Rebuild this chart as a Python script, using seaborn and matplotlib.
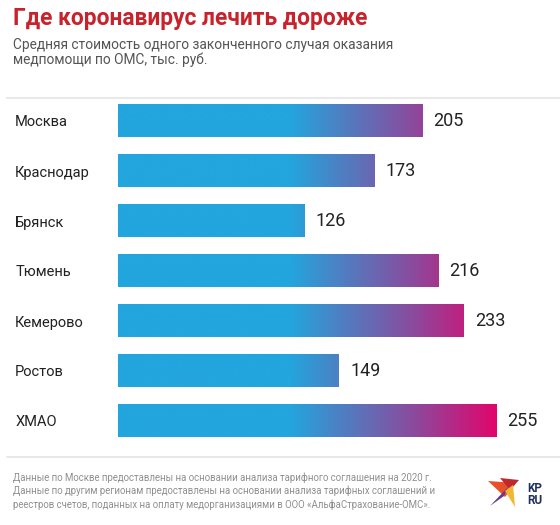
import numpy as np
import pandas as pd
import matplotlib
matplotlib.use("Agg")
import matplotlib.pyplot as plt
import seaborn as sns
from matplotlib.colors import LinearSegmentedColormap, Normalize
from matplotlib.patches import Polygon
from matplotlib.lines import Line2D

regions = ["Москва", "Краснодар", "Брянск", "Тюмень", "Кемерово", "Ростов", "ХМАО"]
costs = [205, 173, 126, 216, 233, 149, 255]

title = "Где коронавирус лечить дороже"
subtitle1 = "Средняя стоимость одного законченного случая оказания"
subtitle2 = "медпомощи по ОМС, тыс. руб."
notes = [
    "Данные по Москве предоставлены на основании анализа тарифного соглашения на 2020 г.",
    "Данные по другим регионам предоставлены на основании анализа тарифных соглашений и",
    "реестров счетов, поданных на оплату медорганизациями в ООО «АльфаСтрахование-ОМС».",
]

sns.set_theme(style="white")
plt.rcParams["font.family"] = ["Roboto", "DejaVu Sans"]

W, H = 560, 525
fig = plt.figure(figsize=(W / 100, H / 100), dpi=100)
fig.patch.set_facecolor("white")


def fx(px):
    return px / W


def fy(py):
    return 1 - py / H


ax = fig.add_axes([fx(118), fy(446), (W - 118) / W, 350 / H])
df = pd.DataFrame({"region": regions, "cost": costs})
sns.barplot(data=df, x="cost", y="region", orient="h", color="#23a5dd",
            width=0.66, ax=ax, errorbar=None)

cmap = LinearSegmentedColormap.from_list(
    "g", [(0.0, "#23a5dd"), (0.6, "#8b4a9d"), (1.0, "#e0066c")])
norm = Normalize(116, 255, clip=True)
for p in ax.patches:
    x0, y0, w, h = p.get_x(), p.get_y(), p.get_width(), p.get_height()
    xs = np.linspace(x0, x0 + w, 300)
    img = cmap(norm(xs))[None, :, :]
    ax.imshow(img, extent=[x0, x0 + w, y0 + h, y0], aspect="auto",
              interpolation="bilinear", zorder=2)
    p.set_facecolor("none")
    p.set_edgecolor("none")

ax.bar_label(ax.containers[0], padding=8, fontsize=13, color="#222222")

ax.set_xlim(0, (W - 118) / 1.483)
ax.set_ylim(6.5, -0.5)
ax.set_xticks([])
ax.set_xlabel("")
ax.set_ylabel("")
for s in ax.spines.values():
    s.set_visible(False)
ax.tick_params(axis="y", left=False, pad=68, labelsize=10.5, labelcolor="#222222")
for t in ax.get_yticklabels():
    t.set_horizontalalignment("left")

fig.text(fx(13), fy(25), title, fontsize=16.4, fontweight="bold", color="#c8232c", va="baseline")
fig.text(fx(13), fy(49), subtitle1, fontsize=9.9, color="#555555", va="baseline")
fig.text(fx(13), fy(64), subtitle2, fontsize=9.9, color="#555555", va="baseline")

for yy in (98, 457):
    fig.add_artist(Line2D([fx(7), 1], [fy(yy), fy(yy)], color="#e8e8e8", lw=1.5))

for i, line in enumerate(notes):
    fig.text(fx(13), fy(481 + 13.5 * i), line, fontsize=6.95, color="#8f8f8f", va="baseline")

# logo
def poly(pts, color):
    fig.add_artist(Polygon([(fx(a), fy(b)) for a, b in pts], closed=True,
                           facecolor=color, edgecolor="none", transform=fig.transFigure))

poly([(488, 481), (516, 483), (505, 497)], "#e8502a")
poly([(500, 478), (519, 480), (510, 490)], "#c0282e")
poly([(490, 506), (508, 487), (504, 496)], "#6a3a8c")
poly([(505, 491), (513, 485), (515, 507)], "#f2b632")
fig.text(fx(535), fy(492), "KP", fontsize=8.5, fontweight="bold", color="#1f2f5e",
         ha="center", va="baseline")
fig.text(fx(535), fy(503.5), "RU", fontsize=8.5, fontweight="bold", color="#1f2f5e",
         ha="center", va="baseline")

fig.savefig("out.png", dpi=100, facecolor="white")
